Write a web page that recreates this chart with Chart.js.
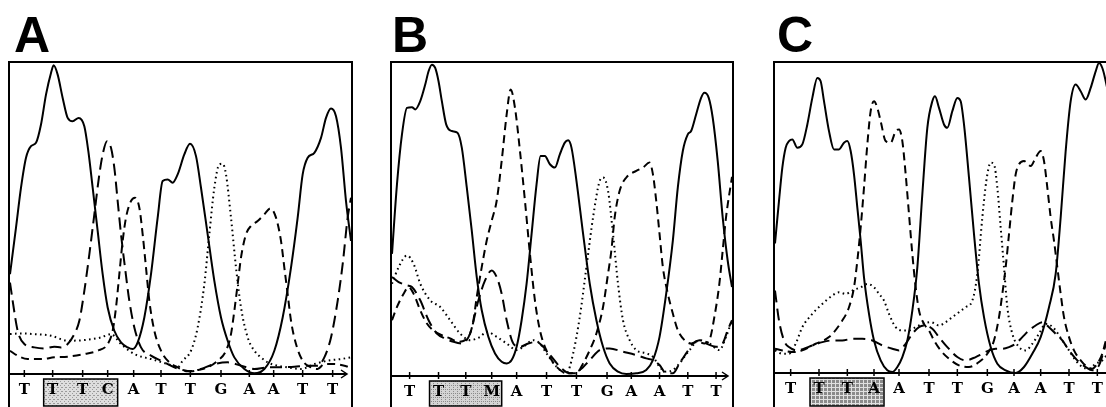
<!DOCTYPE html>
<html lang="en">
<head>
<meta charset="UTF-8" />
<title>Sequence traces A, B, C</title>
<script src="https://cdn.jsdelivr.net/npm/chart.js@4"></script>
<style>
  html, body { margin: 0; padding: 0; background: #fff; width: 1106px; height: 407px; overflow: hidden; }
  .tag { position: absolute; font-family: 'Liberation Sans', Arial, sans-serif; font-weight: 700; font-size: 50px; line-height: 50px; color: #000; }
  .panel { position: absolute; top: 61px; border: 2px solid #000; border-bottom: none; }
  .panel canvas { display: block; }
</style>
</head>
<body>
<div class="tag" style="left:14px;top:10px">A</div>
<div class="tag" style="left:392px;top:10px">B</div>
<div class="tag" style="left:777px;top:10px">C</div>

<div class="panel" style="left:8px"><canvas id="traceA" width="341" height="344"></canvas></div>
<div class="panel" style="left:390px"><canvas id="traceB" width="340" height="344"></canvas></div>
<div class="panel" style="left:773px"><canvas id="traceC" width="345" height="344"></canvas></div>

<script>
  // base calls under each trace, and the scan where each call sits
  const basesA = ['T','T','T','C','A','T','T','G','A','A','T','T'];
  const basesB = ['T','T','T','M','A','T','T','G','A','A','T','T'];
  const basesC = ['T','T','T','A','A','T','T','G','A','A','T','T'];
  const callScanA = [43,128,218,293,371,453,541,633,718,791,878,968];
  const callScanB = [53,140,222,300,375,465,555,647,720,805,890,975];
  const callScanC = [47,132,217,297,372,462,547,637,717,797,882,967];

  // [scan, signal] per dye channel
  const aT = [[0,300],[18,440],[33,560],[48,650],[63,685],[78,695],[93,750],[108,840],[123,905],[131,928],[143,900],[158,830],[173,770],[188,760],[206,770],[223,745],[235,670],[248,560],[263,430],[278,300],[293,200],[313,130],[333,95],[353,80],[368,75],[383,95],[403,170],[423,300],[443,470],[458,580],[473,585],[488,575],[503,600],[523,660],[540,692],[558,655],[573,560],[593,420],[613,280],[633,170],[653,100],[673,50],[703,15],[733,2],[763,15],[793,70],[818,170],[843,320],[863,470],[878,600],[893,650],[913,665],[933,710],[948,770],[963,798],[978,775],[993,680],[1008,520],[1023,400]];
  const aC = [[0,275],[8,220],[23,130],[43,90],[73,80],[103,77],[133,82],[153,80],[173,90],[193,120],[208,160],[223,250],[238,360],[253,480],[268,600],[278,660],[291,700],[303,680],[313,620],[323,520],[333,420],[345,320],[358,220],[373,140],[393,80],[423,55],[453,40],[493,20],[518,12],[543,8],[573,15],[613,30],[653,35],[693,25],[733,15],[773,20],[813,20],[853,22],[893,25],[923,25],[943,50],[963,110],[983,220],[998,330],[1013,470],[1023,530]];
  const aA = [[0,70],[23,55],[53,45],[93,45],[133,50],[173,52],[223,60],[263,70],[293,90],[308,130],[318,200],[328,300],[338,400],[348,470],[363,520],[375,530],[388,500],[398,420],[408,320],[418,220],[433,130],[453,70],[473,40],[503,20],[533,8],[563,12],[593,20],[623,40],[648,70],[663,120],[673,190],[683,270],[693,350],[708,420],[723,445],[743,460],[763,480],[781,498],[798,470],[813,400],[823,320],[833,240],[843,160],[858,90],[878,40],[903,20],[923,15],[943,30],[973,30],[1023,20]];
  const aG = [[0,120],[33,122],[73,120],[123,115],[173,100],[223,102],[273,110],[303,120],[333,90],[373,60],[423,45],[473,30],[503,20],[518,40],[543,70],[563,140],[583,270],[598,420],[613,560],[628,630],[638,632],[648,600],[663,470],[678,320],[693,200],[713,110],[733,70],[753,50],[773,35],[803,25],[833,20],[873,15],[913,30],[953,40],[993,45],[1023,50]];

  const bT = [[0,368],[15,578],[30,728],[45,808],[60,810],[70,803],[85,828],[100,878],[110,918],[120,938],[130,928],[140,888],[150,828],[163,758],[180,738],[197,733],[210,688],[225,568],[240,438],[255,298],[270,198],[290,118],[310,68],[330,43],[345,38],[360,48],[375,88],[390,168],[405,278],[420,428],[435,578],[447,663],[460,663],[475,638],[490,628],[505,668],[520,703],[530,710],[540,688],[555,588],[575,428],[595,278],[615,168],[635,88],[655,38],[680,13],[705,6],[735,8],[765,18],[785,48],[805,118],[825,248],[845,408],[860,568],[875,678],[890,728],[900,738],[915,788],[930,838],[940,853],[953,838],[965,778],[980,648],[995,478],[1010,348],[1023,268]];
  const bA = [[0,168],[15,208],[35,248],[50,268],[65,248],[85,198],[105,158],[130,133],[150,123],[175,113],[200,103],[220,108],[235,128],[245,168],[255,238],[270,328],[285,408],[300,468],[315,528],[330,648],[345,788],[357,863],[370,808],[385,678],[400,528],[415,368],[430,228],[445,138],[460,88],[480,48],[500,23],[525,8],[555,8],[575,38],[595,78],[615,128],[635,208],[650,308],[660,378],[670,478],[685,558],[705,598],[735,618],[755,628],[775,643],[785,608],[795,528],[805,428],[815,328],[830,248],[845,188],[860,138],[880,108],[900,98],[920,103],[940,98],[955,108],[970,178],[985,278],[995,378],[1005,478],[1023,600]];
  const bC = [[0,298],[20,283],[45,273],[60,268],[85,228],[110,168],[135,128],[160,113],[185,103],[210,98],[235,128],[260,228],[280,288],[300,318],[315,298],[330,248],[345,168],[365,98],[385,88],[410,98],[435,103],[455,88],[480,58],[505,28],[535,8],[565,18],[595,48],[625,78],[655,83],[695,73],[735,63],[765,53],[785,48],[805,33],[825,8],[845,8],[865,38],[885,68],[905,98],[925,108],[945,98],[975,88],[995,98],[1010,138],[1023,168]];
  const bG = [[0,278],[20,328],[45,363],[65,338],[85,278],[115,228],[145,208],[175,168],[205,128],[235,108],[265,118],[285,133],[315,118],[345,98],[375,78],[395,88],[425,108],[445,98],[465,68],[495,28],[525,8],[545,68],[565,178],[585,328],[605,478],[625,588],[635,598],[650,558],[665,428],[680,278],[695,168],[715,108],[735,78],[765,68],[785,58],[805,28],[825,13],[845,18],[865,38],[895,78],[925,108],[955,98],[985,78],[1005,118],[1023,168]];

  const cT = [[0,390],[12,518],[22,618],[32,678],[42,698],[52,703],[67,678],[82,688],[97,748],[112,828],[127,888],[137,878],[147,818],[162,728],[177,673],[192,673],[207,693],[217,698],[227,668],[237,598],[247,498],[257,398],[267,288],[282,178],[297,98],[317,38],[337,8],[352,3],[367,18],[382,48],[397,98],[412,188],[427,318],[442,538],[457,738],[472,818],[480,833],[492,798],[507,748],[517,738],[532,788],[547,828],[557,818],[567,748],[582,588],[597,418],[612,268],[627,168],[647,78],[667,28],[692,8],[722,0],[747,18],[772,58],[797,108],[822,198],[842,298],[857,468],[872,668],[887,818],[902,868],[917,848],[932,823],[947,858],[962,908],[972,933],[982,918],[990,888],[1007,798],[1022,668],[1035,558]];
  const cA = [[0,73],[22,68],[52,63],[82,68],[122,88],[162,108],[202,158],[222,198],[237,258],[247,338],[257,438],[267,558],[277,688],[287,788],[297,818],[307,798],[317,758],[332,698],[347,693],[362,728],[372,733],[382,698],[392,598],[402,478],[412,358],[422,258],[432,188],[447,148],[462,128],[477,98],[497,68],[522,43],[552,23],[582,18],[612,33],[637,58],[657,98],[672,168],[682,238],[692,318],[702,418],[712,518],[722,598],[732,628],[747,638],[767,623],[782,648],[797,668],[807,638],[817,558],[827,468],[837,398],[847,318],[857,238],[867,168],[882,108],[897,68],[917,38],[937,18],[952,13],[967,28],[982,58],[990,88],[1012,168],[1035,268]];
  const cC = [[0,248],[12,158],[27,98],[42,78],[67,68],[87,73],[112,83],[142,93],[172,98],[202,98],[232,103],[262,103],[292,98],[322,83],[352,73],[372,68],[392,88],[412,118],[432,138],[452,143],[472,133],[492,108],[517,78],[547,48],[572,38],[602,48],[622,58],[642,68],[662,73],[682,73],[702,78],[722,88],[742,108],[762,128],[782,143],[802,153],[822,138],[842,118],[862,98],[882,68],[907,38],[932,18],[952,8],[972,23],[990,78],[1012,138],[1035,188]];
  const cG = [[0,68],[22,58],[42,58],[62,88],[82,138],[112,178],[142,208],[172,233],[192,243],[212,238],[232,248],[257,258],[277,268],[297,258],[312,238],[327,218],[342,178],[362,138],[382,128],[402,128],[422,138],[442,148],[467,153],[492,143],[512,153],[532,168],[552,183],[572,198],[592,218],[607,298],[622,468],[634,578],[647,633],[657,628],[667,558],[677,438],[687,318],[697,198],[712,118],[732,78],[752,68],[772,88],[792,118],[812,148],[827,143],[842,128],[862,98],[882,68],[902,38],[922,18],[942,13],[962,28],[982,38],[990,48],[1022,68]];

  // line style per dye
  const dyeStyle = {
    T: { dash: [], width: 2 },
    A: { dash: [8, 5], width: 2 },
    C: { dash: [12, 6], width: 2 },
    G: { dash: [1.6, 3.4], width: 2 }
  };

  function stipple(ctx, shade) {
    const c = document.createElement('canvas');
    c.width = 4; c.height = 4;
    const g = c.getContext('2d');
    if (shade === 'dark') {
      g.fillStyle = '#8a8a8a'; g.fillRect(0, 0, 4, 4);
      g.fillStyle = '#e0e0e0'; g.fillRect(0, 0, 4, 1); g.fillRect(0, 0, 1, 4);
    } else if (shade === 'lined') {
      g.fillStyle = '#d4d4d4'; g.fillRect(0, 0, 4, 4);
      g.fillStyle = '#8c8c8c'; g.fillRect(1, 0, 1, 1); g.fillRect(1, 2, 1, 1); g.fillRect(3, 2, 1, 1);
    } else {
      g.fillStyle = '#dedede'; g.fillRect(0, 0, 4, 4);
      g.fillStyle = '#9a9a9a'; g.fillRect(0, 0, 1, 1); g.fillRect(2, 2, 1, 1); g.fillRect(3, 0, 1, 1);
    }
    return ctx.createPattern(c, 'repeat');
  }

  // shaded box behind the marked calls, axis line with ticks and arrow
  const traceDecor = {
    id: 'traceDecor',
    beforeDraw(chart, args, opts) {
      const xs = chart.scales.x, area = chart.chartArea, ctx = chart.ctx;
      const left = xs.getPixelForValue(xs.ticks[opts.mark[0]].value) - 9;
      const right = xs.getPixelForValue(xs.ticks[opts.mark[1]].value) + 10;
      const top = area.bottom + 5, bottom = chart.height - 1;
      ctx.save();
      ctx.fillStyle = stipple(ctx, opts.shade);
      ctx.fillRect(left, top, right - left, bottom - top);
      ctx.lineWidth = 1.5;
      ctx.strokeStyle = '#000';
      ctx.strokeRect(left, top, right - left, bottom - top);
      ctx.restore();
    },
    afterDraw(chart) {
      const xs = chart.scales.x, area = chart.chartArea, ctx = chart.ctx;
      const y = area.bottom;
      ctx.save();
      ctx.strokeStyle = '#000';
      ctx.lineWidth = 2;
      ctx.beginPath(); ctx.moveTo(area.left, y); ctx.lineTo(area.right - 4, y); ctx.stroke();
      ctx.lineWidth = 1.5;
      ctx.beginPath();
      ctx.moveTo(area.right - 10, y - 4); ctx.lineTo(area.right - 4, y); ctx.lineTo(area.right - 10, y + 4);
      ctx.stroke();
      xs.ticks.forEach(t => {
        const x = xs.getPixelForValue(t.value);
        ctx.beginPath(); ctx.moveTo(x, y - 4); ctx.lineTo(x, y + 3); ctx.stroke();
      });
      ctx.restore();
    }
  };

  function drawTrace(id, bases, callScan, mark, shade, xMax, yMax, axisHeight, channels) {
    new Chart(document.getElementById(id), {
      type: 'line',
      data: {
        datasets: channels.map(ch => ({
          data: ch.pts.map(p => ({ x: p[0], y: p[1] })),
          borderColor: '#000',
          borderWidth: dyeStyle[ch.dye].width,
          borderDash: dyeStyle[ch.dye].dash,
          pointRadius: 0,
          cubicInterpolationMode: 'monotone',
          fill: false
        }))
      },
      options: {
        responsive: false,
        animation: false,
        layout: { padding: 0 },
        plugins: {
          legend: { display: false },
          tooltip: { enabled: false },
          traceDecor: { mark: mark, shade: shade }
        },
        scales: {
          x: {
            type: 'linear', min: 0, max: xMax,
            afterBuildTicks: axis => { axis.ticks = callScan.map(v => ({ value: v })); },
            afterFit: axis => { axis.height = axisHeight; },
            grid: { display: false, drawTicks: false },
            border: { display: false },
            ticks: {
              autoSkip: false, maxRotation: 0, minRotation: 0, padding: 7, color: '#000',
              font: { family: "'DejaVu Serif', 'Liberation Serif', serif", size: 15, weight: 'bold' },
              callback: (v, i) => bases[i]
            }
          },
          y: { display: false, min: 0, max: yMax }
        }
      },
      plugins: [traceDecor]
    });
  }

  drawTrace('traceA', basesA, callScanA, [1, 3], 'light', 1023, 935, 33,
    [{ dye: 'G', pts: aG }, { dye: 'A', pts: aA }, { dye: 'C', pts: aC }, { dye: 'T', pts: aT }]);
  drawTrace('traceB', basesB, callScanB, [1, 3], 'lined', 1023, 943, 31,
    [{ dye: 'G', pts: bG }, { dye: 'A', pts: bA }, { dye: 'C', pts: bC }, { dye: 'T', pts: bT }]);
  drawTrace('traceC', basesC, callScanC, [1, 3], 'dark', 1035, 933, 34,
    [{ dye: 'G', pts: cG }, { dye: 'A', pts: cA }, { dye: 'C', pts: cC }, { dye: 'T', pts: cT }]);
</script>
</body>
</html>
